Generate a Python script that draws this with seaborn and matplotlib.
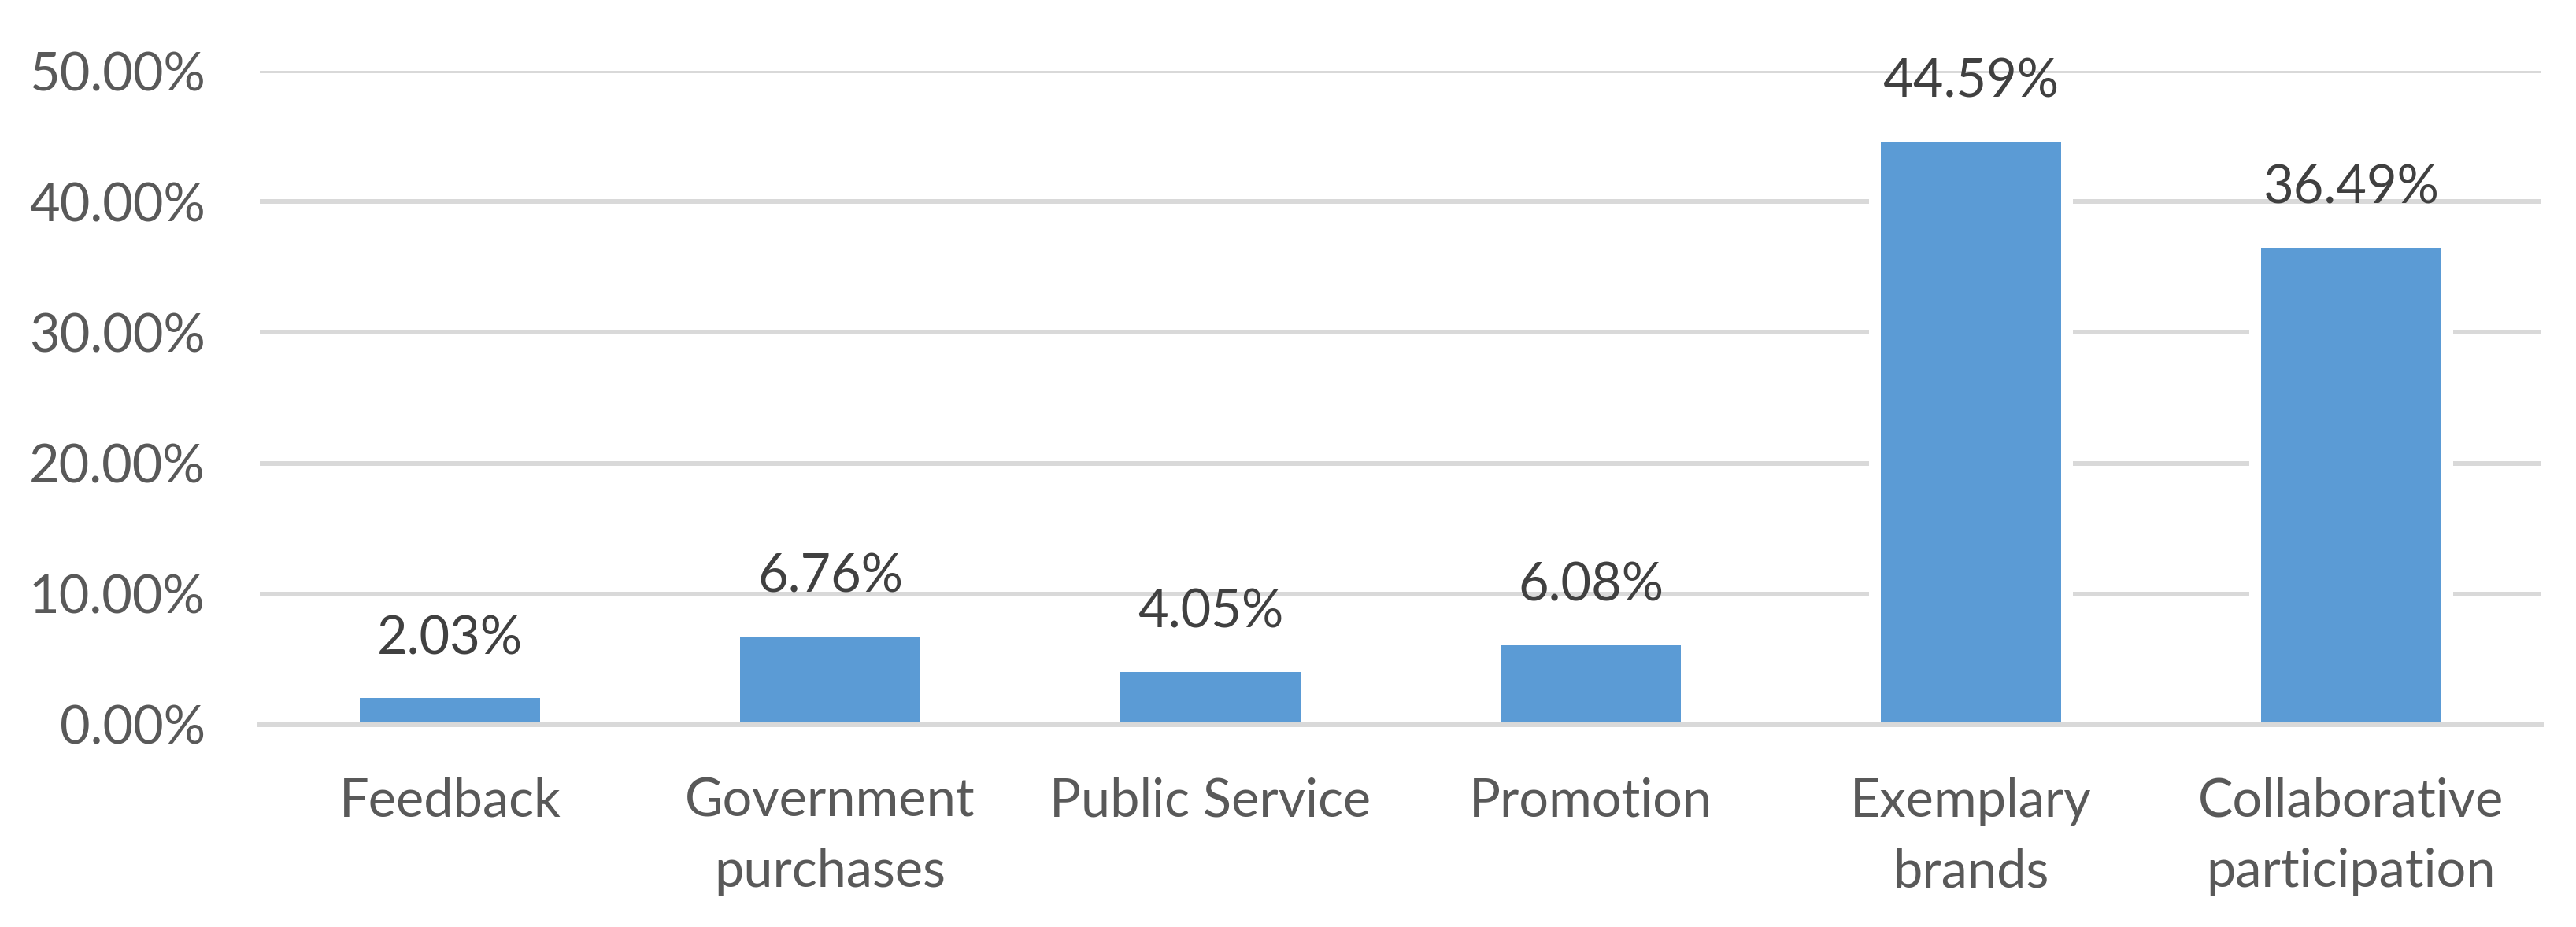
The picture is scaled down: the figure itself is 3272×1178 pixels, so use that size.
import numpy as np
import pandas as pd
import matplotlib
matplotlib.use('Agg')
import matplotlib.pyplot as plt
import seaborn as sns

# données
categories = ['Feedback', 'Government\npurchases', 'Public Service', 'Promotion',
              'Exemplary\nbrands', 'Collaborative\nparticipation']
shares = [2.03, 6.76, 4.05, 6.08, 44.59, 36.49]
y_ticks = [0, 10, 20, 30, 40, 50]

df = pd.DataFrame({'category': categories, 'share': shares})

sns.set_theme(style='white')
plt.rcParams['font.family'] = ['Lato', 'DejaVu Sans']

W, H = 3273, 1178
fig = plt.figure(figsize=(W / 100, H / 100), dpi=100)
ax = fig.add_axes([330 / W, 1 - 921 / H, (3228 - 330) / W, (921 - 90) / H])

# halo blanc autour des barres (coupe la grille comme dans Excel), puis les barres
sns.barplot(data=df, x='category', y='share', color='white', saturation=1,
            width=0.535, linewidth=0, ax=ax)
sns.barplot(data=df, x='category', y='share', color='#5B9BD5', saturation=1,
            width=0.475, linewidth=0, ax=ax)

ax.set_xlim(-0.5, len(categories) - 0.5)
ax.set_ylim(0, 50)
ax.set_xlabel('')
ax.set_ylabel('')

# étiquettes au-dessus des barres
for i, v in enumerate(shares):
    ax.annotate(f'{v:.2f}%', xy=(i, v), xytext=(0, 54), textcoords='offset points',
                ha='center', va='center', fontsize=48, color='#404040')

# axes et grille style Excel
ax.set_yticks(y_ticks)
ax.set_yticklabels([f'{t:.2f}%' for t in y_ticks])
ax.set_axisbelow(True)
ax.yaxis.grid(True, color='#D9D9D9', linewidth=4.3)
ax.xaxis.grid(False)
for side in ['left', 'right', 'top']:
    ax.spines[side].set_visible(False)
ax.spines['bottom'].set_color('#D9D9D9')
ax.spines['bottom'].set_linewidth(4.3)

ax.set_xticks(np.arange(-0.5, len(categories) + 0.5, 1), minor=True)
ax.tick_params(axis='x', which='major', length=0, pad=48, labelsize=48,
               labelcolor='#595959')
ax.tick_params(axis='x', which='minor', length=16, width=4.3, color='#D9D9D9',
               direction='out')
ax.tick_params(axis='y', length=0, pad=50, labelsize=48, labelcolor='#595959')
for lab in ax.get_xticklabels():
    lab.set_linespacing(1.55)
    lab.set_multialignment('center')

fig.savefig('out.png', dpi=100, facecolor='white')
